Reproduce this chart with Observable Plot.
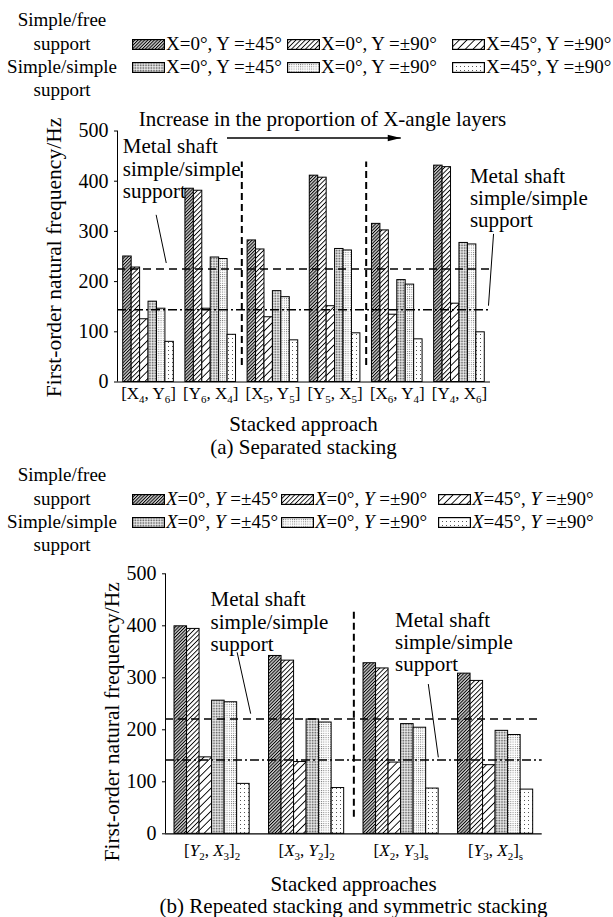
<!DOCTYPE html>
<html><head><meta charset="utf-8">
<script src="https://cdn.jsdelivr.net/npm/d3@7"></script>
<script src="https://cdn.jsdelivr.net/npm/@observablehq/plot@0.6"></script>
<style>
body{margin:0;background:#fff;}
#page{position:relative;width:613px;height:917px;overflow:hidden;font-family:"Liberation Serif","Times New Roman",serif;color:#000;}
.t{position:absolute;white-space:nowrap;font-size:19px;line-height:22px;height:22px;}
.c{text-align:center;}
svg.plot{position:absolute;left:0;overflow:visible;}
</style></head>
<body><div id="page"></div>
<script>
// ---------- data ----------
const series = ["sf_0_45", "sf_0_90", "sf_45_90", "ss_0_45", "ss_0_90", "ss_45_90"];
const supportNames = [["Simple/free", "support"], ["Simple/simple", "support"]];
const angleX = ["0°", "0°", "45°"];
const angleY = ["±45°", "±90°", "±90°"];
const yTicks = [0, 100, 200, 300, 400, 500];
const yTitle = "First-order natural frequency/Hz";
const metalText = "Metal shaft\nsimple/simple\nsupport";
const trendText = "Increase in the proportion of X-angle layers";

// panel (a) Separated stacking
const groupsA = ["[X_4, Y_6]", "[Y_6, X_4]", "[X_5, Y_5]", "[Y_5, X_5]", "[X_6, Y_4]", "[Y_4, X_6]"];
const freeA_0_45  = [250, 385, 282, 411, 315, 431];
const freeA_0_90  = [228, 381, 264, 407, 302, 428];
const freeA_45_90 = [125, 146, 129, 151, 134, 156];
const simpA_0_45  = [160, 248, 181, 265, 203, 277];
const simpA_0_90  = [146, 245, 169, 262, 194, 274];
const simpA_45_90 = [80, 94, 83, 97, 85, 99];
const metalA = [225, 144];           // dashed, dash-dot
const dividersA = [2, 4];            // divider before these group indices

// panel (b) Repeated / symmetric stacking
const groupsB = ["[Y_2, X_3]_2", "[X_3, Y_2]_2", "[X_2, Y_3]_s", "[Y_3, X_2]_s"];
const freeB_0_45  = [399, 342, 328, 308];
const freeB_0_90  = [394, 333, 318, 294];
const freeB_45_90 = [147, 138, 137, 132];
const simpB_0_45  = [256, 220, 211, 198];
const simpB_0_90  = [253, 214, 204, 190];
const simpB_45_90 = [96, 88, 87, 85];
const metalB = [221, 142];
const dividersB = [2];

// ---------- styles ----------
const patStyles = [
  {kind: "hatch", s: 2.3, w: 0.95, bg: "#cfcfcf"},
  {kind: "hatch", s: 3.3, w: 0.9, bg: "#ffffff"},
  {kind: "hatch", s: 5.4, w: 0.9, bg: "#ffffff"},
  {kind: "dots", s: 1.6, r: 1.0, c: "#555555", bg: "#ffffff"},
  {kind: "dots", s: 2.2, r: 0.9, c: "#666666", bg: "#ffffff"},
  {kind: "dots", s: 4.0, r: 1.0, c: "#555555", bg: "#ffffff"}
];
const NS = "http://www.w3.org/2000/svg";
const page = document.getElementById("page");

(function defs() {
  const svg = document.createElementNS(NS, "svg");
  svg.setAttribute("width", 0); svg.setAttribute("height", 0);
  svg.style.position = "absolute";
  let html = "<defs>";
  patStyles.forEach((p, i) => {
    if (p.kind === "hatch") {
      html += `<pattern id="pat${i}" patternUnits="userSpaceOnUse" width="${p.s}" height="${p.s}" patternTransform="rotate(45)">` +
        `<rect width="${p.s}" height="${p.s}" fill="${p.bg}"/><rect x="0" y="0" width="${p.w}" height="${p.s}" fill="#000"/></pattern>`;
    } else {
      html += `<pattern id="pat${i}" patternUnits="userSpaceOnUse" width="${p.s}" height="${p.s}">` +
        `<rect width="${p.s}" height="${p.s}" fill="${p.bg}"/><rect x="0" y="0" width="${p.r}" height="${p.r}" fill="${p.c}"/></pattern>`;
    }
  });
  svg.innerHTML = html + "</defs>";
  page.appendChild(svg);
})();

// narrow filled arrow head pointing right, tip at the anchor point
const arrowHead = {draw(ctx) { ctx.moveTo(0, 0); ctx.lineTo(-13, -3.2); ctx.lineTo(-13, 3.2); ctx.closePath(); }};

function addText(html, left, cy, opts = {}) {
  const d = document.createElement("div");
  d.className = "t" + (opts.center ? " c" : "");
  d.innerHTML = html;
  d.style.left = left + "px";
  d.style.top = (cy - 11) + "px";
  if (opts.width) d.style.width = opts.width + "px";
  if (opts.size) d.style.fontSize = opts.size + "px";
  page.appendChild(d);
}
function addSwatch(x, cy, i) {
  const w = 33, h = 11;
  const s = document.createElementNS(NS, "svg");
  s.setAttribute("width", w); s.setAttribute("height", h);
  s.style.position = "absolute"; s.style.left = x + "px"; s.style.top = (cy - h / 2) + "px";
  s.innerHTML = `<rect x="0.6" y="0.6" width="${w - 1.2}" height="${h - 1.2}" fill="url(#pat${i})" stroke="#000" stroke-width="1.2"/>`;
  page.appendChild(s);
}
function legend(rows, swX, italic) {
  const side = [supportNames[0][0], supportNames[0][1], supportNames[1][0], supportNames[1][1]];
  side.forEach((t, i) => addText(t, 0, rows[i], {center: true, width: 124}));
  [0, 1].forEach(r => {
    const cy = rows[1 + r];
    [0, 1, 2].forEach(k => {
      addSwatch(swX[k], cy, r * 3 + k);
      const X = italic ? "<i>X</i>" : "X", Y = italic ? "<i>Y</i>" : "Y";
      addText(`${X}=${angleX[k]}, ${Y} =${angleY[k]}`, swX[k] + 34, cy);
    });
  });
}

// turn "[X_4, Y_6]" into real text with subscripts (and italic X/Y if asked)
function richLabels(svg, labels, italic, sub, shift) {
  svg.querySelectorAll("text").forEach(t => {
    const m = t.textContent;
    if (!labels.includes(m)) return;
    t.textContent = "";
    let run = "", runItal = false, pendingBack = false;
    const flush = () => {
      if (!run) return;
      const ts = document.createElementNS(NS, "tspan");
      ts.textContent = run;
      if (runItal) ts.setAttribute("font-style", "italic");
      if (pendingBack) { ts.setAttribute("dy", -shift); pendingBack = false; }
      t.appendChild(ts); run = "";
    };
    for (let k = 0; k < m.length; k++) {
      const ch = m[k];
      if (ch === "_") {
        flush();
        const ts = document.createElementNS(NS, "tspan");
        ts.textContent = m[++k];
        ts.setAttribute("font-size", sub);
        ts.setAttribute("dy", pendingBack ? 0 : shift);
        t.appendChild(ts); pendingBack = true;
      } else {
        const it = italic && (ch === "X" || ch === "Y");
        if (it !== runItal) { flush(); runItal = it; }
        run += ch;
      }
    }
    flush();
  });
}

function panel(c) {
  const cols = c.cols;
  const data = c.groups.flatMap((g, gi) => cols.map((vals, si) => ({group: g, gi, si, series: series[si], value: vals[gi]})));
  const step = 6 + c.gap;
  const domain = [-c.pad, (c.groups.length - 1) * step + 6 + c.pad];
  const x1 = d => d.gi * step + d.si, x2 = d => d.gi * step + d.si + 1;
  const center = (g, i) => i * step + 3;
  const divX = gi => gi * step - c.gap / 2;
  const plot = Plot.plot({
    width: 613, height: c.height,
    marginLeft: c.left, marginRight: 613 - c.right, marginTop: c.marginTop, marginBottom: c.height - c.marginTop - c.frameH,
    style: {fontFamily: "'Liberation Serif', 'Times New Roman', serif", fontSize: "20px", background: "transparent", color: "#000"},
    x: {domain, axis: null},
    y: {domain: [0, 500], ticks: yTicks, tickSize: 3, tickPadding: 6, label: null},
    color: {domain: series, range: series.map((_, i) => `url(#pat${i})`)},
    marks: [
      Plot.rectY(data, {x1, x2, y1: 0, y2: "value", fill: "series", stroke: "#000", strokeWidth: 1}),
      Plot.ruleY([0], {stroke: "#000", strokeWidth: 1.2}),
      Plot.ruleX([domain[0]], {y1: 0, y2: 500, stroke: "#000", strokeWidth: 1}),
      Plot.ruleY([c.metal[0]], {stroke: "#000", strokeWidth: 1.5, strokeDasharray: "8,5"}),
      Plot.ruleY([c.metal[1]], {stroke: "#000", strokeWidth: 1.5, strokeDasharray: "9,3,2,3"}),
      Plot.ruleX(c.dividers, {x: divX, y1: c.divExtent[0], y2: c.divExtent[1], stroke: "#000", strokeWidth: 2, strokeDasharray: "7,4"}),
      Plot.text(c.groups, {x: center, frameAnchor: "bottom", dy: c.labelDy, text: d => d, fontSize: c.labelSize}),
      Plot.text([yTitle], {frameAnchor: "left", textAnchor: "middle", rotate: -90, dx: c.titleDx, dy: c.titleDy, text: d => d, fontSize: 21.5}),
      Plot.text(c.notes, {x: "x", y: "y", text: "text", textAnchor: "start", lineAnchor: "top", lineHeight: 1.06, fontSize: 21}),
      Plot.link(c.leaders, {x1: "x1", y1: "y1", x2: "x2", y2: "y2", stroke: "#000", strokeWidth: 1}),
      c.arrow ? Plot.link(c.arrow, {x1: "x1", y1: "y1", x2: "x2", y2: "y2", stroke: "#000", strokeWidth: 1.5}) : null,
      c.arrow ? Plot.dot(c.arrow, {x: "x2", y: "y2", symbol: arrowHead, r: 5, fill: "#000", stroke: "none"}) : null
    ]
  });
  plot.classList.add("plot");
  plot.style.top = c.top + "px";
  page.appendChild(plot);
  richLabels(plot, c.groups, c.italic, c.subSize, c.subShift);
}

// ---------- legend (a) ----------
legend([20, 44, 67, 90], [132, 287, 452], false);

// ---------- panel (a) ----------
panel({
  groups: groupsA, cols: [freeA_0_45, freeA_0_90, freeA_45_90, simpA_0_45, simpA_0_90, simpA_45_90],
  metal: metalA, dividers: dividersA, divExtent: [33, 438],
  gap: 1.372, pad: 0.68, top: 98, height: 316, marginTop: 32.5, frameH: 251, left: 117, right: 490,
  labelDy: 17, labelSize: 17, subSize: 11, subShift: 4, italic: false, titleDx: -63, titleDy: 1,
  notes: [
    {x: 1.85, y: 541, text: trendText},
    {x: -0.05, y: 487, text: metalText},
    {x: 41.1, y: 428, text: metalText}
  ],
  leaders: [
    {x1: 3.9, y1: 333, x2: 5.1, y2: 237},
    {x1: 43.9, y1: 295, x2: 43.3, y2: 152}
  ],
  arrow: [{x1: 12.3, y1: 486, x2: 32.9, y2: 486}]
});
addText("Stacked approach", 117, 424, {center: true, width: 373, size: 21});
addText("(a) Separated stacking", 117, 447, {center: true, width: 373, size: 21});

// ---------- legend (b) ----------
legend([475, 499, 522, 545], [132, 281, 438], true);

// ---------- panel (b) ----------
panel({
  groups: groupsB, cols: [freeB_0_45, freeB_0_90, freeB_45_90, simpB_0_45, simpB_0_90, simpB_45_90],
  metal: metalB, dividers: dividersB, divExtent: [32, 428],
  gap: 1.544, pad: 0.72, top: 548, height: 320, marginTop: 25.3, frameH: 260, left: 165, right: 541.7,
  labelDy: 22, labelSize: 17, subSize: 11, subShift: 4, italic: true, titleDx: -53, titleDy: 18,
  notes: [
    {x: 2.88, y: 468, text: metalText},
    {x: 17.6, y: 429, text: metalText}
  ],
  leaders: [
    {x1: 5.0, y1: 349, x2: 6.08, y2: 231},
    {x1: 20.26, y1: 288, x2: 21.06, y2: 147}
  ],
  arrow: null
});
addText("Stacked approaches", 165, 884, {center: true, width: 377, size: 21});
addText("(b) Repeated stacking and symmetric stacking", 115, 906, {center: true, width: 477, size: 21});
</script>
</body></html>
